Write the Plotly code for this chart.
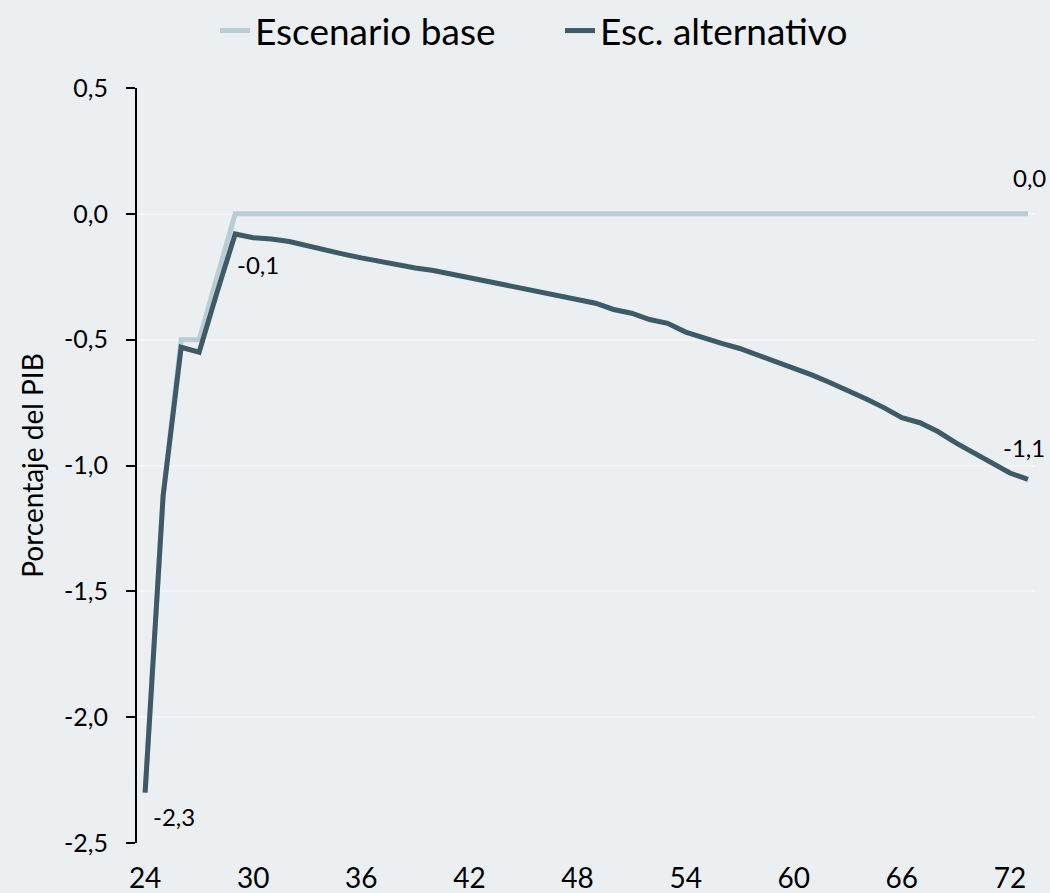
import plotly.graph_objects as go

years = list(range(2024, 2074))
base = [-2.30, -1.12, -0.50, -0.50, -0.25] + [0.0] * 45
alt = [-2.30, -1.12, -0.53, -0.55, -0.31, -0.08, -0.095, -0.10, -0.11, -0.125,
       -0.145, -0.16, -0.175, -0.19, -0.20, -0.215, -0.225, -0.24, -0.255, -0.27,
       -0.285, -0.295, -0.31, -0.33, -0.345, -0.355, -0.38, -0.395, -0.42, -0.435,
       -0.47, -0.495, -0.515, -0.535, -0.56, -0.585, -0.61, -0.64, -0.67, -0.70,
       -0.735, -0.77, -0.81, -0.83, -0.865, -0.91, -0.95, -0.99, -1.03, -1.055]

y_ticks = [0.5, 0.0, -0.5, -1.0, -1.5, -2.0, -2.5]
y_tick_text = ["0,5", "0,0", "-0,5", "-1,0", "-1,5", "-2,0", "-2,5"]
x_ticks = [2024, 2030, 2036, 2042, 2048, 2054, 2060, 2066, 2072]
x_tick_text = ["24", "30", "36", "42", "48", "54", "60", "66", "72"]

FONT = "Lato"
BG = "#EBEFF2"
INK = "#000000"

fig = go.Figure()
fig.add_trace(go.Scatter(x=years, y=base, mode="lines", name="Escenario base",
                         line=dict(color="#B9CDD5", width=5)))
fig.add_trace(go.Scatter(x=years, y=alt, mode="lines", name="Esc. alternativo",
                         line=dict(color="#3D5A66", width=5)))

lbl_font = dict(family=FONT, size=24, color=INK)
fig.add_annotation(x=years[0], y=alt[0], text="-2,3", showarrow=False,
                   xanchor="left", yanchor="middle", xshift=6, yshift=-24, font=lbl_font)
fig.add_annotation(x=years[5], y=alt[5], text="-0,1", showarrow=False,
                   xanchor="left", yanchor="middle", xshift=0, yshift=-31, font=lbl_font)
fig.add_annotation(x=years[-1], y=base[-1], text="0,0", showarrow=False,
                   xanchor="center", yanchor="middle", xshift=2, yshift=36, font=lbl_font)
fig.add_annotation(x=years[-1], y=alt[-1], text="-1,1", showarrow=False,
                   xanchor="center", yanchor="middle", xshift=-4, yshift=32, font=lbl_font)

fig.update_layout(
    width=1050, height=893,
    paper_bgcolor=BG, plot_bgcolor=BG,
    margin=dict(l=137, r=15, t=88, b=50, autoexpand=False),
    font=dict(family=FONT, size=22, color=INK),
    showlegend=True,
    legend=dict(orientation="h", xref="container", x=215 / 1050, xanchor="left",
                yref="container", y=1.0, yanchor="top",
                font=dict(family=FONT, size=37, color=INK),
                bgcolor="rgba(0,0,0,0)", entrywidth=300, entrywidthmode="pixels"),
)

fig.update_xaxes(range=[2023.55, 2073.39], tickvals=x_ticks, ticktext=x_tick_text,
                 showgrid=False, showline=False, zeroline=False, ticks="",
                 automargin=False,
                 tickfont=dict(family=FONT, size=28, color=INK),
                 ticklabelstandoff=16)
fig.update_yaxes(range=[-2.5, 0.5], tickvals=y_ticks, ticktext=y_tick_text,
                 showgrid=True, gridcolor="#F6F6F6", gridwidth=2,
                 showline=True, linecolor="#000000", linewidth=2,
                 ticks="outside", ticklen=9, tickwidth=2, tickcolor="#000000",
                 zeroline=False, automargin=False,
                 tickfont=dict(family=FONT, size=25, color=INK),
                 ticklabelstandoff=13,
                 title=dict(text="Porcentaje del PIB", standoff=12,
                            font=dict(family=FONT, size=28, color=INK)))

fig.write_html("out.html", config={"displayModeBar": False},
               post_script="document.body.style.margin='0';")
